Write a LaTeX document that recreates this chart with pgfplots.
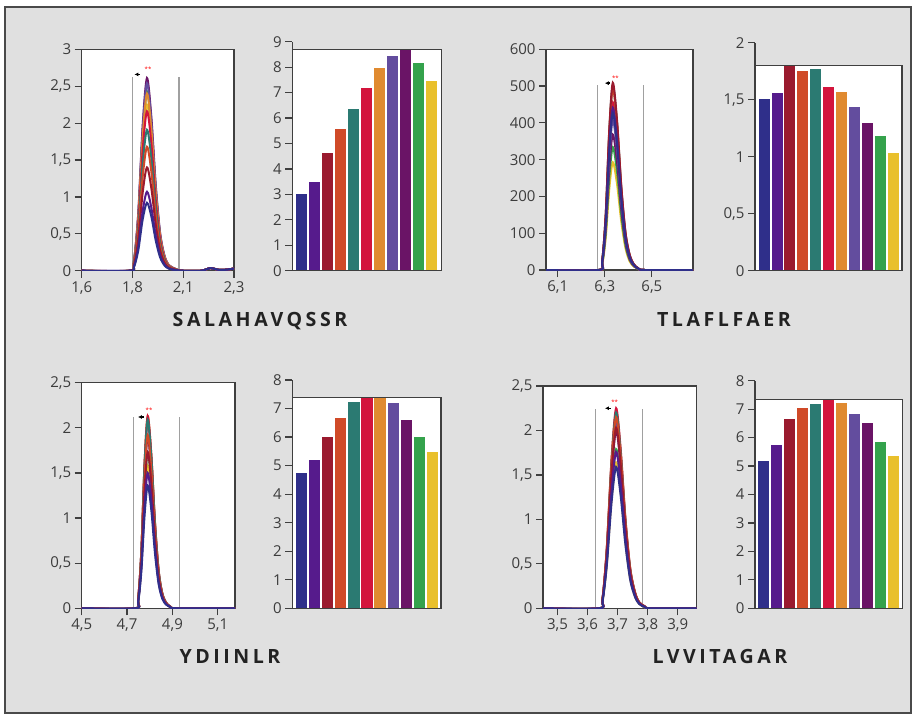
\documentclass[border=0pt]{standalone}
\usepackage{fontspec}
\setmainfont{Open Sans}
\newfontfamily\titlefont[LetterSpace=18]{Open Sans}
\usepackage{pgfplots}
\pgfplotsset{compat=1.18}
\usepackage{pgfplotstable}
\usetikzlibrary{arrows.meta}

\definecolor{c1}{HTML}{2F2F8A}
\definecolor{c2}{HTML}{561B8C}
\definecolor{c3}{HTML}{9A1A2E}
\definecolor{c4}{HTML}{D04A28}
\definecolor{c5}{HTML}{2B7A72}
\definecolor{c6}{HTML}{D3143C}
\definecolor{c7}{HTML}{E08A30}
\definecolor{c8}{HTML}{634D9E}
\definecolor{c9}{HTML}{6A1466}
\definecolor{c10}{HTML}{34A24C}
\definecolor{c11}{HTML}{E9C02C}
\definecolor{bggray}{HTML}{E0E0E0}
\definecolor{bordergray}{HTML}{4A4A4A}
\definecolor{axgray}{HTML}{3F3F3F}
\definecolor{tickgray}{HTML}{3C3C3C}
\definecolor{vgray}{HTML}{A0A0A0}
\definecolor{titlegray}{HTML}{222222}

% chromatogram traces (rows: retention time; columns: one per sample)
\pgfplotstableread{
x a b c d e f g h i j k
1.60 0 0 0 0 0 0 0 0 0 0 0
1.82 0 0 0 0 0 0 0 0 0 0 0
1.84 0.046 0.054 0.070 0.084 0.096 0.108 0.120 0.127 0.131 0.122 0.113
1.86 0.276 0.321 0.420 0.504 0.573 0.648 0.720 0.762 0.783 0.729 0.675
1.88 0.690 0.803 1.050 1.260 1.433 1.620 1.800 1.905 1.958 1.823 1.688
1.90 0.920 1.070 1.400 1.680 1.910 2.160 2.400 2.540 2.610 2.430 2.250
1.92 0.736 0.856 1.120 1.344 1.528 1.728 1.920 2.032 2.088 1.944 1.800
1.94 0.414 0.482 0.630 0.756 0.860 0.972 1.080 1.143 1.175 1.094 1.013
1.96 0.184 0.214 0.280 0.336 0.382 0.432 0.480 0.508 0.522 0.486 0.450
1.98 0.074 0.086 0.112 0.134 0.153 0.173 0.192 0.203 0.209 0.194 0.180
2.00 0.028 0.032 0.042 0.050 0.057 0.065 0.072 0.076 0.078 0.073 0.068
2.03 0.009 0.011 0.014 0.017 0.019 0.022 0.024 0.025 0.026 0.024 0.023
2.06 0 0 0 0 0 0 0 0 0 0 0
2.15 0 0 0 0 0 0 0 0 0 0 0
2.19 0.035 0.035 0.035 0.035 0.035 0.035 0.035 0.035 0.035 0.035 0.035
2.23 0.012 0.012 0.012 0.012 0.012 0.012 0.012 0.012 0.012 0.012 0.012
2.27 0.015 0.015 0.015 0.015 0.015 0.015 0.015 0.015 0.015 0.015 0.015
2.30 0.030 0.030 0.030 0.030 0.030 0.030 0.030 0.030 0.030 0.030 0.030
}\tabA

\pgfplotstableread{
x a b c d e f g h i j k
6.050 0 0 0 0 0 0 0 0 0 0 0
6.274 0 0 0 0 0 0 0 0 0 0 0
6.289 21.4 22.1 25.5 24.8 25.1 22.8 22.2 20.4 18.4 16.7 14.7
6.304 128 132 153 149 150 137 133 122 110 100 88
6.319 320 331 382 371 376 342 333 306 276 251 220
6.334 427 441 509 495 501 456 444 408 368 334 293
6.352 342 353 407 396 401 365 355 326 294 267 234
6.370 192 198 229 223 225 205 200 184 166 150 132
6.388 85 88 102 99 100 91 89 82 74 67 59
6.406 34 35 41 40 40 36 36 33 29 27 23
6.424 13 13 15 15 15 14 13 12 11 10 9
6.442 4 4 5 5 5 5 4 4 4 3 3
6.470 0 0 0 0 0 0 0 0 0 0 0
6.675 0 0 0 0 0 0 0 0 0 0 0
}\tabB

\pgfplotstableread{
x a b c d e f g h i j k
4.500 0 0 0 0 0 0 0 0 0 0 0
4.735 0 0 0 0 0 0 0 0 0 0 0
4.749 0.068 0.075 0.087 0.096 0.105 0.107 0.107 0.104 0.095 0.087 0.079
4.763 0.408 0.450 0.519 0.576 0.627 0.639 0.639 0.621 0.570 0.519 0.474
4.777 1.020 1.125 1.298 1.440 1.568 1.598 1.598 1.553 1.425 1.298 1.185
4.791 1.360 1.500 1.730 1.920 2.090 2.130 2.130 2.070 1.900 1.730 1.580
4.807 1.088 1.200 1.384 1.536 1.672 1.704 1.704 1.656 1.520 1.384 1.264
4.823 0.612 0.675 0.779 0.864 0.941 0.959 0.959 0.932 0.855 0.779 0.711
4.839 0.272 0.300 0.346 0.384 0.418 0.426 0.426 0.414 0.380 0.346 0.316
4.855 0.109 0.120 0.138 0.154 0.167 0.170 0.170 0.166 0.152 0.138 0.126
4.872 0.041 0.045 0.052 0.058 0.063 0.064 0.064 0.062 0.057 0.052 0.047
4.890 0.014 0.015 0.017 0.019 0.021 0.021 0.021 0.021 0.019 0.017 0.016
4.920 0 0 0 0 0 0 0 0 0 0 0
5.176 0 0 0 0 0 0 0 0 0 0 0
}\tabC

\pgfplotstableread{
x a b c d e f g h i j k
3.452 0 0 0 0 0 0 0 0 0 0 0
3.638 0 0 0 0 0 0 0 0 0 0 0
3.650 0.080 0.088 0.102 0.108 0.110 0.113 0.111 0.105 0.100 0.090 0.082
3.664 0.477 0.528 0.609 0.645 0.660 0.675 0.663 0.627 0.600 0.537 0.492
3.680 1.193 1.320 1.523 1.613 1.650 1.688 1.658 1.568 1.500 1.343 1.230
3.695 1.590 1.760 2.030 2.150 2.200 2.250 2.210 2.090 2.000 1.790 1.640
3.710 1.272 1.408 1.624 1.720 1.760 1.800 1.768 1.672 1.600 1.432 1.312
3.726 0.716 0.792 0.914 0.968 0.990 1.013 0.995 0.941 0.900 0.806 0.738
3.742 0.318 0.352 0.406 0.430 0.440 0.450 0.442 0.418 0.400 0.358 0.328
3.758 0.127 0.141 0.162 0.172 0.176 0.180 0.177 0.167 0.160 0.143 0.131
3.772 0.048 0.053 0.061 0.065 0.066 0.068 0.066 0.063 0.060 0.054 0.049
3.790 0.016 0.018 0.020 0.022 0.022 0.023 0.022 0.021 0.020 0.018 0.016
3.810 0 0 0 0 0 0 0 0 0 0 0
3.963 0 0 0 0 0 0 0 0 0 0 0
}\tabD

\newcommand{\peaks}[1]{%
\addplot[c11] table[x=x,y=k]{#1};
\addplot[c10] table[x=x,y=j]{#1};
\addplot[c9] table[x=x,y=i]{#1};
\addplot[c8] table[x=x,y=h]{#1};
\addplot[c7] table[x=x,y=g]{#1};
\addplot[c6] table[x=x,y=f]{#1};
\addplot[c5] table[x=x,y=e]{#1};
\addplot[c4] table[x=x,y=d]{#1};
\addplot[c3] table[x=x,y=c]{#1};
\addplot[c2] table[x=x,y=b]{#1};
\addplot[c1] table[x=x,y=a]{#1};
}

\newcommand{\tickfont}{\fontsize{15bp}{16bp}\selectfont}

\tikzset{
  frame/.style={draw=axgray, line width=1.3bp},
  vline/.style={draw=vgray, line width=1.3bp},
  pk/.style={-{Latex[length=4bp,width=4bp]}, line width=1.4bp, black},
  star/.style={text=red, font=\fontsize{6bp}{6bp}\selectfont, inner sep=0pt},
}

\pgfplotsset{
  common/.style={
    scale only axis, anchor=south west,
    axis line style={draw=axgray, line width=1.3bp},
    tick style={draw=axgray, line width=1.2bp},
    tick align=outside, major tick length=7bp,
    every tick label/.append style={font=\tickfont, text=tickgray},
    /pgf/number format/use comma,
    /pgf/number format/assume math mode=true,
  },
  chrom/.style={common,
    xtick pos=bottom, ytick pos=left,
    axis background/.style={fill=white},
    every axis plot/.append style={line width=2bp, smooth, no marks},
  },
  barax/.style={common,
    axis x line=none, axis y line*=left, clip=false,
  },
  b/.style={ybar, bar width=0.86, bar shift=0pt, draw=none, fill=#1},
}

\begin{document}
\begin{tikzpicture}
\useasboundingbox (0,0) rectangle (914bp,-715bp);
\fill[white] (0,0) rectangle (914bp,-715bp);
\fill[bggray] (5bp,-7bp) rectangle (911bp,-713bp);
\draw[bordergray, line width=2bp] (5bp,-7bp) rectangle (911bp,-713bp);

% ---------- Panel 1: SALAHAVQSSR ----------
\begin{axis}[chrom, at={(81.7bp,-270.7bp)}, width=152.3bp, height=221.4bp,
  xmin=1.6, xmax=2.3, ymin=0, ymax=3,
  xtick={1.6,1.83333,2.06667,2.3}, xticklabels={{1,6},{1,8},{2,1},{2,3}},
  ytick={0,0.5,1,1.5,2,2.5,3}]
\draw[vline] (axis cs:1.835,0) -- (axis cs:1.835,2.63);
\draw[vline] (axis cs:2.047,0) -- (axis cs:2.047,2.63);
\peaks{\tabA}
\draw[pk] (axis cs:1.868,2.66) -- (axis cs:1.842,2.66);
\node[star] at (axis cs:1.905,2.73) {**};
\end{axis}

\begin{axis}[barax, at={(292.3bp,-270.7bp)}, width=149.4bp, height=229bp,
  xmin=-0.68, xmax=10.81, ymin=0, ymax=9, ytick={0,1,2,3,4,5,6,7,8,9}]
\fill[white] (axis cs:-0.68,0) rectangle (axis cs:10.81,8.70);
\addplot[b=c1] coordinates {(0,3.00)};
\addplot[b=c2] coordinates {(1,3.50)};
\addplot[b=c3] coordinates {(2,4.61)};
\addplot[b=c4] coordinates {(3,5.57)};
\addplot[b=c5] coordinates {(4,6.35)};
\addplot[b=c6] coordinates {(5,7.17)};
\addplot[b=c7] coordinates {(6,7.98)};
\addplot[b=c8] coordinates {(7,8.44)};
\addplot[b=c9] coordinates {(8,8.70)};
\addplot[b=c10] coordinates {(9,8.15)};
\addplot[b=c11] coordinates {(10,7.47)};
\draw[frame] (axis cs:-0.68,0) rectangle (axis cs:10.81,8.70);
\end{axis}

% ---------- Panel 2: TLAFLFAER ----------
\begin{axis}[chrom, at={(546bp,-270bp)}, width=147bp, height=220.7bp,
  xmin=6.05, xmax=6.675, ymin=0, ymax=600,
  xtick={6.1,6.3,6.5}, xticklabels={{6,1},{6,3},{6,5}},
  ytick={0,100,200,300,400,500,600}]
\draw[vline] (axis cs:6.27,0) -- (axis cs:6.27,503);
\draw[vline] (axis cs:6.465,0) -- (axis cs:6.465,503);
\peaks{\tabB}
\draw[pk] (axis cs:6.322,508) -- (axis cs:6.300,508);
\node[star] at (axis cs:6.345,522) {**};
\end{axis}

\begin{axis}[barax, at={(755bp,-270.7bp)}, width=147bp, height=228bp,
  xmin=-0.71, xmax=10.69, ymin=0, ymax=2, ytick={0,0.5,1,1.5,2}]
\fill[white] (axis cs:-0.71,0) rectangle (axis cs:10.69,1.80);
\addplot[b=c1] coordinates {(0,1.51)};
\addplot[b=c2] coordinates {(1,1.56)};
\addplot[b=c3] coordinates {(2,1.80)};
\addplot[b=c4] coordinates {(3,1.75)};
\addplot[b=c5] coordinates {(4,1.77)};
\addplot[b=c6] coordinates {(5,1.61)};
\addplot[b=c7] coordinates {(6,1.57)};
\addplot[b=c8] coordinates {(7,1.44)};
\addplot[b=c9] coordinates {(8,1.30)};
\addplot[b=c10] coordinates {(9,1.18)};
\addplot[b=c11] coordinates {(10,1.035)};
\draw[frame] (axis cs:-0.71,0) rectangle (axis cs:10.69,1.80);
\end{axis}

% ---------- Panel 3: YDIINLR ----------
\begin{axis}[chrom, at={(81.7bp,-608.3bp)}, width=153.3bp, height=225.6bp,
  xmin=4.5, xmax=5.176, ymin=0, ymax=2.5,
  xtick={4.5,4.7,4.9,5.1}, xticklabels={{4,5},{4,7},{4,9},{5,1}},
  ytick={0,0.5,1,1.5,2,2.5}]
\draw[vline] (axis cs:4.728,0) -- (axis cs:4.728,2.12);
\draw[vline] (axis cs:4.931,0) -- (axis cs:4.931,2.12);
\peaks{\tabC}
\draw[pk] (axis cs:4.774,2.12) -- (axis cs:4.748,2.12);
\node[star] at (axis cs:4.797,2.19) {**};
\end{axis}

\begin{axis}[barax, at={(292.3bp,-608.3bp)}, width=148.7bp, height=228.3bp,
  xmin=-0.70, xmax=10.65, ymin=0, ymax=8, ytick={0,1,2,3,4,5,6,7,8}]
\fill[white] (axis cs:-0.70,0) rectangle (axis cs:10.65,7.38);
\addplot[b=c1] coordinates {(0,4.73)};
\addplot[b=c2] coordinates {(1,5.20)};
\addplot[b=c3] coordinates {(2,6.02)};
\addplot[b=c4] coordinates {(3,6.66)};
\addplot[b=c5] coordinates {(4,7.24)};
\addplot[b=c6] coordinates {(5,7.38)};
\addplot[b=c7] coordinates {(6,7.38)};
\addplot[b=c8] coordinates {(7,7.18)};
\addplot[b=c9] coordinates {(8,6.60)};
\addplot[b=c10] coordinates {(9,6.02)};
\addplot[b=c11] coordinates {(10,5.47)};
\draw[frame] (axis cs:-0.70,0) rectangle (axis cs:10.65,7.38);
\end{axis}

% ---------- Panel 4: LVVITAGAR ----------
\begin{axis}[chrom, at={(543bp,-608.3bp)}, width=153.7bp, height=222.3bp,
  xmin=3.452, xmax=3.963, ymin=0, ymax=2.5,
  xtick={3.5,3.6,3.7,3.8,3.9}, xticklabels={{3,5},{3,6},{3,7},{3,8},{3,9}},
  ytick={0,0.5,1,1.5,2,2.5}]
\draw[vline] (axis cs:3.627,0) -- (axis cs:3.627,2.24);
\draw[vline] (axis cs:3.782,0) -- (axis cs:3.782,2.24);
\peaks{\tabD}
\draw[pk] (axis cs:3.678,2.25) -- (axis cs:3.658,2.25);
\node[star] at (axis cs:3.690,2.32) {**};
\end{axis}

\begin{axis}[barax, at={(755bp,-608.3bp)}, width=147.3bp, height=227.6bp,
  xmin=-0.64, xmax=10.67, ymin=0, ymax=8, ytick={0,1,2,3,4,5,6,7,8}]
\fill[white] (axis cs:-0.64,0) rectangle (axis cs:10.67,7.34);
\addplot[b=c1] coordinates {(0,5.19)};
\addplot[b=c2] coordinates {(1,5.74)};
\addplot[b=c3] coordinates {(2,6.64)};
\addplot[b=c4] coordinates {(3,7.03)};
\addplot[b=c5] coordinates {(4,7.18)};
\addplot[b=c6] coordinates {(5,7.34)};
\addplot[b=c7] coordinates {(6,7.22)};
\addplot[b=c8] coordinates {(7,6.83)};
\addplot[b=c9] coordinates {(8,6.53)};
\addplot[b=c10] coordinates {(9,5.85)};
\addplot[b=c11] coordinates {(10,5.35)};
\draw[frame] (axis cs:-0.64,0) rectangle (axis cs:10.67,7.34);
\end{axis}

% ---------- peptide names ----------
\begin{scope}[every node/.style={anchor=base, text=titlegray,
    font=\titlefont\bfseries\fontsize{19.6bp}{20bp}\selectfont}]
\node at (260bp,-326bp) {SALAHAVQSSR};
\node at (724bp,-326bp) {TLAFLFAER};
\node at (230bp,-663bp) {YDIINLR};
\node at (720bp,-663bp) {LVVITAGAR};
\end{scope}
\end{tikzpicture}
\end{document}
